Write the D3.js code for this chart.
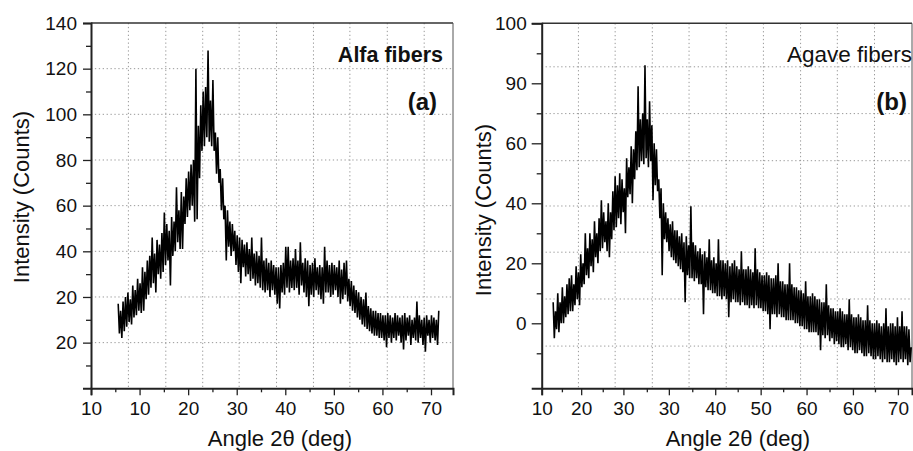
<!DOCTYPE html>
<meta charset="utf-8">
<script src="https://d3js.org/d3.v7.min.js"></script>
<style>
  body { margin: 0; background: #fff; }
  svg text { font-family: "Liberation Sans", Arial, sans-serif; fill: #111; }
</style>
<div id="chart"></div>
<script>

// panel (a) : Alfa fibers, scan from 5.6 deg, 0.25 deg step
var alfaStart = 5.6, alfaStep = 0.25;
var alfaCounts = [
  17, 4, 14, 2,    18, 5, 20, 7,    22, 9, 19, 8,    25, 11, 23, 12,
  28, 14, 26, 13,  33, 14, 31, 19,  36, 21, 38, 24,  46, 26, 39, 22,
  45, 30, 43, 28,  48, 31, 57, 34,  52, 36, 49, 25,  55, 38, 53, 40,
  68, 44, 58, 41,  66, 41, 64, 52,  72, 55, 75, 58,  78, 60, 80, 53,
  120, 54, 95, 72, 104, 84, 110, 86, 112, 90, 128, 88, 106, 86, 115, 84,
  92, 74, 90, 70,  76, 58, 72, 54,  60, 36, 58, 42,  53, 38, 52, 40,
  49, 34, 47, 31,  46, 26, 45, 33,  43, 29, 44, 30,  41, 27, 46, 28,
  39, 25, 40, 26,  38, 24, 46, 23,  36, 22, 37, 23,  35, 20, 36, 23,
  34, 21, 33, 17,  33, 15, 34, 22,  35, 21, 42, 24,  42, 22, 36, 24,
  37, 23, 41, 24,  36, 21, 44, 25,  35, 22, 37, 20,  36, 16, 34, 21,
  35, 20, 37, 23,  33, 21, 34, 19,  33, 17, 42, 22,  36, 22, 34, 20,
  35, 21, 34, 23,  33, 20, 36, 17,  32, 19, 35, 21,  36, 18, 28, 16,
  27, 14, 25, 13,  23, 11, 22, 10,  20, 8, 19, 7,    22, 6, 16, 5,
  15, 4, 14, 3,    14, 3, 13, 2,    13, 2, 12, 1,    12, -2, 13, 2,
  12, 0, 11, 2,    13, 1, 12, 3,    11, 0, 12, -3,   13, 1, 11, 3,
  12, -1, 10, 2,   11, 1, 18, 0,    12, 2, 10, -1,   11, -4, 12, 3,
  10, 0, 12, 2,    11, 1, 10, -1,   14
];

// panel (b) : Agave fibers, scan from 12.5 deg, 0.25 deg step
var agaveStart = 12.5, agaveStep = 0.25;
var agaveCounts = [
  7, -5, 4, -2,    10, -3, 7, 0,    12, 0, 9, 2,     13, 3, 15, 4,
  16, 4, 13, 6,    19, 8, 17, 6,    23, 12, 20, 13,  30, 16, 25, 15,
  30, 19, 28, 17,  34, 22, 30, 20,  35, 24, 41, 25,  37, 27, 34, 24,
  40, 22, 37, 28,  44, 31, 49, 32,  46, 35, 50, 33,  48, 37, 45, 30,
  55, 42, 52, 43,  59, 40, 58, 48,  64, 51, 79, 52,  68, 54, 70, 53,
  86, 55, 68, 52,  74, 54, 66, 41,  60, 46, 58, 44,  48, 35, 45, 16,
  40, 28, 37, 27,  35, 24, 33, 22,  34, 21, 31, 20,  31, 19, 29, 18,
  30, 17, 27, 7,   29, 16, 26, 15,  39, 15, 27, 14,  26, 15, 24, 13,
  25, 13, 23, 3,   24, 12, 22, 11,  28, 11, 21, 10,  22, 10, 20, 9,
  28, 9, 21, 8,    21, 9, 20, 8,    21, 2, 19, 7,    20, 8, 21, 7,
  19, 7, 18, 6,    24, 7, 18, 6,    18, 6, 19, 5,    18, 6, 17, 5,
  25, 6, 18, 5,    17, 5, 16, 4,    16, 4, 17, 3,    16, -2, 15, 3,
  15, 3, 16, 2,    20, 3, 14, 2,    14, 2, 13, 1,    13, 1, 20, 1,
  13, 1, 12, 0,    12, 0, 11, -1,   11, -1, 10, -2,  14, -2, 9, -3,
  9, -3, 10, -3,   9, -3, 8, -4,    8, -9, 7, -4,    7, -5, 13, -4,
  6, -6, 5, -5,    5, -7, 4, -6,    4, -7, 5, -8,    4, -8, 3, -7,
  3, -9, 8, -8,    3, -9, 2, -10,   2, -10, 3, -9,   2, -10, 1, -11,
  1, -11, 6, -10,  1, -11, 0, -12,  0, -12, 1, -11,  0, -12, -1, -13,
  0, -12, 5, -13,  -1, -13, 0, -12, 0, -13, -1, -14, 2, -13, -1, -12,
  4, -13, -1, -12, -1, -14, -2, -13, -8
];

// ticks (value on the scale) and the label printed at it
var alfaXTicks  = [0, 10, 20, 30, 40, 50, 60, 70];
var alfaXLabels = ["10", "10", "20", "30", "40", "50", "60", "70"];
var alfaXMinor  = [5, 15, 25, 35, 45, 55, 65];
var alfaYTicks  = [140, 120, 100, 80, 60, 40, 20, 0];
var alfaYLabels = ["140", "120", "100", "80", "60", "40", "20", "20"];
var alfaYMinor  = [130, 110, 90, 70, 50, 30, 10, -10];
var alfaGridX   = [7.7, 15.4, 23, 30.5, 38.2, 45.8, 53.3, 61, 68.6];
var alfaGridY   = [120, 100, 80, 60, 40, 20, 0];

var agaveXTicks  = [10, 18.6, 27.8, 37.7, 47.8, 57.7, 67.7, 77.8, 87.6];
var agaveXLabels = ["10", "20", "30", "30", "40", "50", "60", "60", "70"];
var agaveXMinor  = [14.4, 23.3, 32.9, 42.8, 52.7, 62.6, 72.7, 82.6];
var agaveYTicks  = [100, 80, 60, 40, 20, 0];
var agaveYLabels = ["100", "90", "60", "40", "20", "0"];
var agaveYMinor  = [90, 70, 50, 30, 10, -10];
var agaveGridX   = [18, 26, 34.1, 42.1, 50.2, 58.3, 66.4, 74.4, 82.5];
var agaveGridY   = [85.5, 69.9, 54.2, 39.1, 23.7, 8.1, -7.6];

var svg = d3.select("#chart").append("svg")
    .attr("width", 913)
    .attr("height", 451);

function drawPanel(p) {
  var g = svg.append("g");
  var x = d3.scaleLinear().domain(p.xDomain).range([p.left, p.right]);
  var y = d3.scaleLinear().domain(p.yDomain).range([p.bottom, p.top]);

  // dotted grid
  g.selectAll(".gx").data(p.gridX).enter().append("line")
      .attr("x1", function(d) { return x(d); })
      .attr("x2", function(d) { return x(d); })
      .attr("y1", p.top).attr("y2", p.bottom)
      .attr("stroke", "#999").attr("stroke-dasharray", "1.3,2.6");
  g.selectAll(".gy").data(p.gridY).enter().append("line")
      .attr("y1", function(d) { return y(d); })
      .attr("y2", function(d) { return y(d); })
      .attr("x1", p.left).attr("x2", p.right)
      .attr("stroke", "#999").attr("stroke-dasharray", "1.3,2.6");

  // frame top / right
  g.append("line").attr("x1", p.left).attr("x2", p.right).attr("y1", p.top).attr("y2", p.top)
      .attr("stroke", "#333").attr("stroke-width", 1.4);
  g.append("line").attr("x1", p.right).attr("x2", p.right).attr("y1", p.top).attr("y2", p.bottom)
      .attr("stroke", "#555").attr("stroke-width", 1);

  // the scan
  var clipId = "clip" + p.id;
  svg.append("clipPath").attr("id", clipId).append("rect")
      .attr("x", p.left).attr("y", p.top)
      .attr("width", p.right - p.left).attr("height", p.bottom - p.top);
  var pts = p.counts.map(function(c, i) { return [p.start + i * p.step, c]; });
  g.append("path")
      .datum(pts)
      .attr("clip-path", "url(#" + clipId + ")")
      .attr("fill", "none")
      .attr("stroke", "#000")
      .attr("stroke-width", 1.6)
      .attr("stroke-linejoin", "bevel")
      .attr("d", d3.line().x(function(d) { return x(d[0]); }).y(function(d) { return y(d[1]); }));

  // axes
  var xAxis = g.append("g")
      .attr("transform", "translate(0," + p.bottom + ")")
      .call(d3.axisBottom(x).tickValues(p.xTicks).tickSizeOuter(0).tickSize(7).tickPadding(6)
        .tickFormat(function(d) { return p.xLabels[p.xTicks.indexOf(d)]; }));
  g.append("g")
      .attr("transform", "translate(0," + p.bottom + ")")
      .call(d3.axisBottom(x).tickValues(p.xMinor).tickSize(4).tickFormat(""))
      .select(".domain").remove();

  var yAxis = g.append("g")
      .attr("transform", "translate(" + p.left + ",0)")
      .call(d3.axisLeft(y).tickValues(p.yTicks).tickSizeOuter(0).tickSize(p.yTick).tickPadding(p.yPad)
        .tickFormat(function(d) { return p.yLabels[p.yTicks.indexOf(d)]; }));
  g.append("g")
      .attr("transform", "translate(" + p.left + ",0)")
      .call(d3.axisLeft(y).tickValues(p.yMinor).tickSize(5).tickFormat(""))
      .select(".domain").remove();

  g.selectAll(".tick line").attr("stroke", "#222").attr("stroke-width", 1.3);
  [xAxis, yAxis].forEach(function(a) {
    a.select(".domain").attr("stroke", "#222").attr("stroke-width", 2);
    a.selectAll("text").attr("font-size", "19px").attr("font-family", "Liberation Sans, Arial, sans-serif").attr("fill", "#111");
  });

  // axis titles
  g.append("text")
      .attr("x", (p.left + p.right) / 2 + p.xTitleShift)
      .attr("y", 446)
      .attr("text-anchor", "middle")
      .attr("font-size", "22px")
      .text("Angle 2θ (deg)");
  g.append("text")
      .attr("transform", "translate(" + p.yTitleX + "," + p.yTitleY + ") rotate(-90)")
      .attr("text-anchor", "middle")
      .attr("font-size", "22px")
      .text("Intensity (Counts)");

  // sample name and panel letter
  g.append("text")
      .attr("x", p.nameX).attr("y", 62)
      .attr("text-anchor", "end")
      .attr("font-size", p.nameSize)
      .attr("font-weight", p.nameBold ? "bold" : "normal")
      .text(p.name);
  g.append("text")
      .attr("x", p.letterX).attr("y", 110)
      .attr("text-anchor", "end")
      .attr("font-family", "Open Sans, sans-serif")
      .attr("font-size", "24px")
      .attr("font-weight", "bold")
      .text(p.letter);
}

drawPanel({
  id: "a", left: 91, right: 453, top: 23, bottom: 388.3,
  xDomain: [0, 74.53], yDomain: [-20, 140],
  counts: alfaCounts, start: alfaStart, step: alfaStep,
  xTicks: alfaXTicks, xLabels: alfaXLabels, xMinor: alfaXMinor,
  yTicks: alfaYTicks, yLabels: alfaYLabels, yMinor: alfaYMinor,
  gridX: alfaGridX, gridY: alfaGridY, yTick: 8, yPad: 6,
  xTitleShift: 8, yTitleX: 29, yTitleY: 197,
  name: "Alfa fibers", nameBold: true, nameSize: "21.5px", nameX: 443, letter: "(a)", letterX: 437
});

drawPanel({
  id: "b", left: 541.7, right: 912, top: 23.3, bottom: 388.3,
  xDomain: [10, 90.67], yDomain: [-21.67, 100],
  counts: agaveCounts, start: agaveStart, step: agaveStep,
  xTicks: agaveXTicks, xLabels: agaveXLabels, xMinor: agaveXMinor,
  yTicks: agaveYTicks, yLabels: agaveYLabels, yMinor: agaveYMinor,
  gridX: agaveGridX, gridY: agaveGridY, yTick: 10, yPad: 5,
  xTitleShift: 11, yTitleX: 491, yTitleY: 210,
  name: "Agave fibers", nameBold: false, nameSize: "22.5px", nameX: 912, letter: "(b)", letterX: 907
});

</script>
